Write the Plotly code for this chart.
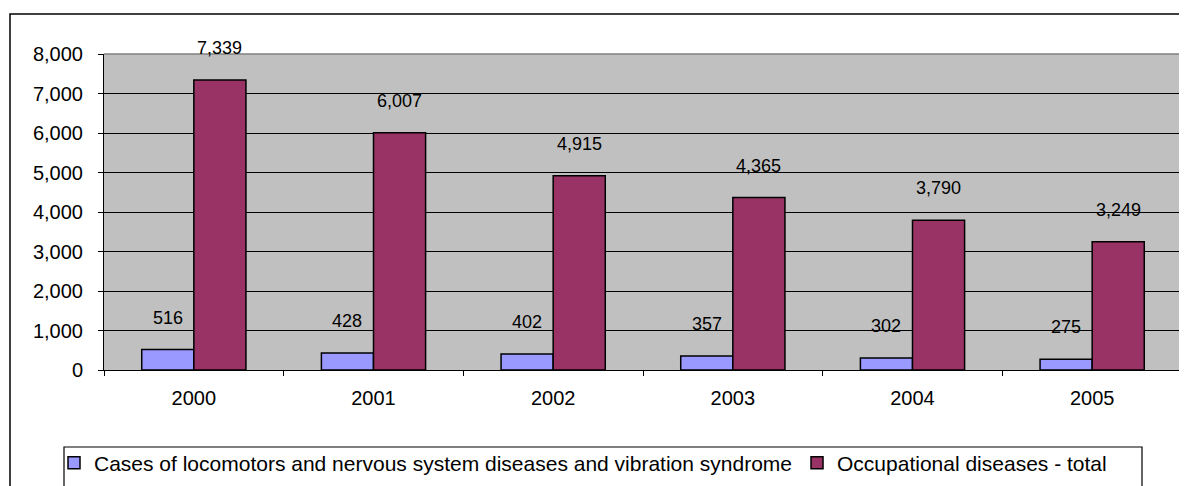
import plotly.graph_objects as go

years = ["2000", "2001", "2002", "2003", "2004", "2005"]
locomotor = [516, 428, 402, 357, 302, 275]
total = [7339, 6007, 4915, 4365, 3790, 3249]
name_loc = "Cases of locomotors and nervous system diseases and vibration syndrome"
name_tot = "Occupational diseases - total"

# page is offset by the 8px body margin, so the figure is 8px smaller
OFF = 8
W, H = 1187 - OFF, 486 - OFF
L, T = 104 - OFF, 54 - OFF
R = W - (1182 - OFF)
B = H - (370 - OFF)
plot_w = W - L - R
plot_h = H - T - B
font = "Arial, Liberation Sans, sans-serif"


def px(xpage):
    return (xpage - OFF - L) / plot_w


def py(ypage):
    return (H - B - (ypage - OFF)) / plot_h


fig = go.Figure()
fig.add_bar(x=years, y=locomotor, name=name_loc,
            marker=dict(color="#9999FF", line=dict(color="black", width=1.5)))
fig.add_bar(x=years, y=total, name=name_tot,
            marker=dict(color="#993366", line=dict(color="black", width=1.5)))

bargap = 0.42
bar_px = (plot_w / len(years)) * (1 - bargap) / 2
for series, sign in ((locomotor, -1), (total, 1)):
    for i, v in enumerate(series):
        fig.add_annotation(x=i, y=v, text=f"{v:,}", showarrow=False,
                           xref="x", yref="y",
                           xshift=sign * bar_px / 2, yshift=32, yanchor="middle",
                           font=dict(family=font, size=18, color="black"))

# outer chart frame
fig.add_shape(type="rect", xref="paper", yref="paper",
              x0=px(10), x1=px(1186), y0=py(520), y1=py(14),
              line=dict(color="black", width=1.5), layer="below")
# legend frame
fig.add_shape(type="rect", xref="paper", yref="paper",
              x0=px(64), x1=px(1142), y0=py(520), y1=py(447),
              line=dict(color="black", width=1.2), fillcolor="white", layer="below")
# plot area border (top/right gray)
fig.add_shape(type="line", xref="paper", yref="paper", x0=0, x1=1, y0=1, y1=1,
              line=dict(color="#808080", width=1.5))
fig.add_shape(type="line", xref="paper", yref="paper", x0=1, x1=1, y0=0, y1=1,
              line=dict(color="#808080", width=2.5))

fig.update_layout(
    width=W, height=H,
    margin=dict(l=L, r=R, t=T, b=B, pad=0, autoexpand=False),
    paper_bgcolor="white", plot_bgcolor="#C0C0C0",
    barmode="group", bargap=bargap, bargroupgap=0,
    font=dict(family=font, size=19, color="black"),
    showlegend=True,
    legend=dict(orientation="h", x=px(54), xanchor="left",
                y=py(463), yanchor="middle",
                bgcolor="rgba(0,0,0,0)", borderwidth=0,
                font=dict(family=font, size=21), itemwidth=30,
                tracegroupgap=0),
    xaxis=dict(type="category", range=[-0.5, len(years) - 0.5],
               showline=True, linecolor="black", linewidth=1,
               ticks="outside", tickson="boundaries", ticklen=5, tickcolor="black",
               tickfont=dict(size=20), tickangle=0, ticklabelstandoff=10),
    yaxis=dict(range=[0, 8000], dtick=1000, tickformat=",d",
               showgrid=True, gridcolor="black", gridwidth=1,
               showline=True, linecolor="black", linewidth=1,
               ticks="outside", ticklen=5, tickcolor="black",
               tickfont=dict(size=20), zeroline=False, ticklabelstandoff=11),
)

fig.write_html("out.html")
